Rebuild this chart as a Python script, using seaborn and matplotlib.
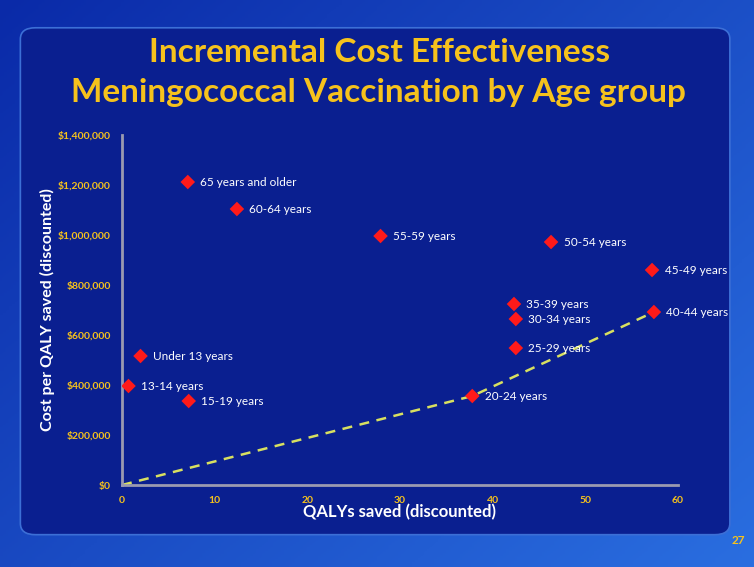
import numpy as np
import pandas as pd
import matplotlib.pyplot as plt
import seaborn as sns
from matplotlib.patches import FancyBboxPatch
from matplotlib.ticker import FuncFormatter

# data
age_groups = ['65 years and older', '60-64 years', '55-59 years', '50-54 years',
              '45-49 years', '35-39 years', '30-34 years', '25-29 years',
              '40-44 years', '20-24 years', 'Under 13 years', '13-14 years',
              '15-19 years']
qalys = [7.1, 12.4, 27.9, 46.3, 57.2, 42.3, 42.5, 42.5, 57.4, 37.8, 2.0, 0.7, 7.2]
cost_per_qaly = [1212000, 1104000, 996000, 972000, 860000, 724000, 664000,
                 548000, 692000, 356000, 516000, 396000, 336000]

# efficiency frontier (dashed)
frontier_x = [0, 37.8, 57.4]
frontier_y = [0, 356000, 692000]

df = pd.DataFrame({'age': age_groups, 'qaly': qalys, 'cost': cost_per_qaly})
front = pd.DataFrame({'qaly': frontier_x, 'cost': frontier_y})

sns.set_style('white')
plt.rcParams['font.family'] = ['Lato', 'DejaVu Sans']

gold = '#f6c21c'
fig = plt.figure(figsize=(7.54, 5.67), dpi=100)

# slide background: gradient + darker rounded panel
bg = fig.add_axes([0, 0, 1, 1], zorder=0)
grad = np.linspace(0, 1, 256).reshape(1, -1)
gy = np.linspace(0, 1, 256).reshape(-1, 1)
g = 0.55 * grad + 0.45 * (1 - gy)
bg.imshow(g, cmap=sns.blend_palette(['#0a2aa8', '#2a6ee0'], as_cmap=True),
          extent=[0, 1, 0, 1], aspect='auto', origin='lower')
bg.add_patch(FancyBboxPatch((0.027, 0.057), 0.941, 0.894,
                            boxstyle='round,pad=0,rounding_size=0.02',
                            transform=bg.transAxes, facecolor='#0a1f90',
                            edgecolor='#3c6fd6', linewidth=1.2))
bg.set_xlim(0, 1)
bg.set_ylim(0, 1)
bg.axis('off')

ax = fig.add_axes([0.1618, 0.1446, 0.7374, 0.6173], zorder=1)
ax.patch.set_alpha(0)

sns.lineplot(data=front, x='qaly', y='cost', ax=ax, color='#d8e060',
             linestyle=(0, (4, 3)), linewidth=1.8)
sns.scatterplot(data=df, x='qaly', y='cost', ax=ax, marker='D', s=55,
                color='#ff1a1a', edgecolor='none', zorder=3)
for _, r in df.iterrows():
    ax.annotate(r['age'], (r['qaly'], r['cost']), xytext=(9, 0),
                textcoords='offset points', va='center', ha='left',
                color='white', fontsize=8.5)

ax.set_xlim(0, 60)
ax.set_ylim(0, 1400000)
ax.set_xticks(range(0, 61, 10))
ax.set_yticks(range(0, 1400001, 200000))
ax.yaxis.set_major_formatter(FuncFormatter(lambda v, p: '${:,.0f}'.format(v)))
ax.tick_params(colors=gold, labelsize=7.5, length=0, pad=8)
for lab in ax.get_xticklabels() + ax.get_yticklabels():
    lab.set_fontweight('bold')
for s in ['top', 'right']:
    ax.spines[s].set_visible(False)
for s in ['left', 'bottom']:
    ax.spines[s].set_color('#9a9ab0')
    ax.spines[s].set_linewidth(2)

ax.set_xlabel('QALYs saved (discounted)', color='white', fontsize=12,
              fontweight='bold', labelpad=-1)
ax.set_ylabel('Cost per QALY saved (discounted)', color='white', fontsize=11.5,
              fontweight='bold', labelpad=2)

fig.text(0.503, 0.907, 'Incremental Cost Effectiveness', ha='center',
         va='center', color=gold, fontsize=24, fontweight='bold')
fig.text(0.502, 0.836, 'Meningococcal Vaccination by Age group', ha='center',
         va='center', color=gold, fontsize=24, fontweight='bold')
fig.text(0.979, 0.046, '27', ha='center', va='center', color=gold,
         fontsize=8.5, fontweight='bold')

fig.savefig('out.png', dpi=100)
